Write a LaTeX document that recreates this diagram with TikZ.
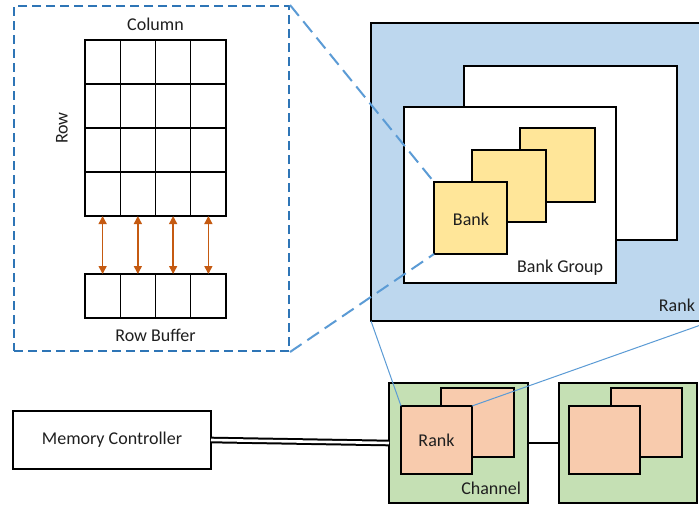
\documentclass[tikz,border=0pt]{standalone}
\usepackage{fontspec}
\setmainfont{Carlito}
\usetikzlibrary{arrows.meta}
\definecolor{rankblue}{HTML}{BDD7EE}
\definecolor{bankyellow}{HTML}{FFE699}
\definecolor{chgreen}{HTML}{C5E0B4}
\definecolor{rankorange}{HTML}{F8CBAD}
\definecolor{dashblue}{HTML}{2E75B6}
\definecolor{linkblue}{HTML}{5B9BD5}
\definecolor{arroworange}{HTML}{C55A11}
\definecolor{txt}{HTML}{1F1F1F}
\tikzset{
  box/.style={draw=black, line width=1.7pt, inner sep=0pt, outer sep=0pt},
  cell/.style={draw=black, line width=1.4pt, inner sep=0pt, outer sep=0pt,
    minimum width=35.25pt, minimum height=44pt},
  lbl/.style={inner sep=0pt, outer sep=0pt, text=txt, font=\fontsize{18pt}{21pt}\selectfont},
  rowarrow/.style={draw=arroworange, line width=1.4pt,
    {Triangle[length=8pt,width=8pt]}-{Triangle[length=8pt,width=8pt]}},
  zoomline/.style={draw=linkblue, line width=2pt, dash pattern=on 14pt off 7pt},
  thinlink/.style={draw=linkblue, line width=1pt},
}
\begin{document}
\begin{tikzpicture}[x=1pt,y=-1pt]
\useasboundingbox (0,0) rectangle (699,504);
\clip (0,0) rectangle (699,504);
\fill[white] (0,0) rectangle (699,504);

% ---- zoomed bank (left) ----
\node[draw=dashblue, line width=2pt, dash pattern=on 9pt off 5pt, inner sep=0pt,
  minimum width=275pt, minimum height=345pt] (zoom) at (151.5,178.5) {};
\foreach \i in {1,...,4}
  \foreach \j in {1,...,4}
    \node[cell] (c-\i-\j) at ({85+35.25*(\j-0.5)},{40+44*(\i-0.5)}) {};
\foreach \j in {1,...,4}
  \node[cell] (b-\j) at ({85+35.25*(\j-0.5)},296) {};
\foreach \j in {1,...,4}
  \draw[rowarrow] (c-4-\j.south) -- (b-\j.north);
\node[lbl] (collbl) at (155.5,24) {Column};
\node[lbl, rotate=90] (rowlbl) at (62,128) {Row};
\node[lbl] (rblbl) at (155.5,335) {Row Buffer};

% ---- rank (top right) ----
\node[box, fill=rankblue, line width=1.9pt, minimum width=341pt, minimum height=298pt] (rank) at (541.5,172) {};
\node[box, fill=white, minimum width=213pt, minimum height=174pt] (bgback) at (570.5,153) {};
\node[box, fill=white, minimum width=212pt, minimum height=176pt] (bg) at (510,195) {};
\node[box, fill=bankyellow, minimum width=75pt, minimum height=74pt] (bank3) at (557.5,165) {};
\node[box, fill=bankyellow, minimum width=74pt, minimum height=72pt] (bank2) at (509,186) {};
\node[box, fill=bankyellow, minimum width=73pt, minimum height=72pt] (bank1) at (470.5,218) {};
\node[lbl] (banklbl) at (471,219) {Bank};
\node[lbl, anchor=east] (bglbl) at (603,268) {Bank Group};
\node[lbl, anchor=east] (ranklbl) at (695,305) {Rank};

% ---- channels (bottom) ----
\node[box, fill=white, minimum width=198pt, minimum height=58pt] (mc) at (112,440) {};
\node[lbl] (mclbl) at (112,440) {Memory Controller};
\node[box, fill=chgreen, minimum width=139pt, minimum height=120pt] (ch1) at (458.5,443) {};
\node[box, fill=rankorange, minimum width=73pt, minimum height=69pt] (ch1back) at (477.5,422.5) {};
\node[box, fill=rankorange, minimum width=71pt, minimum height=68pt] (ch1front) at (436.5,440) {};
\node[lbl] (ch1ranklbl) at (436.5,440) {Rank};
\node[lbl, anchor=east] (chlbl) at (521,488) {Channel};
\node[box, fill=chgreen, minimum width=138pt, minimum height=120pt] (ch2) at (628,443) {};
\node[box, fill=rankorange, minimum width=71pt, minimum height=69pt] (ch2back) at (646.5,422.5) {};
\node[box, fill=rankorange, minimum width=71pt, minimum height=68pt] (ch2front) at (604.5,440) {};

\draw[line width=1.6pt] (ch1.east) -- (ch2.west);
\draw[double=white, double distance=2.6pt, line width=2pt] (mc.east) -- (ch1.west);

% ---- connectors ----
\draw[zoomline] (zoom.north east) -- (bank1.north west);
\draw[zoomline] (zoom.south east) -- (bank1.south west);
\draw[thinlink] (rank.south west) -- (ch1front.north west);
\draw[thinlink] (rank.south east) -- (ch1front.north east);
\end{tikzpicture}
\end{document}
